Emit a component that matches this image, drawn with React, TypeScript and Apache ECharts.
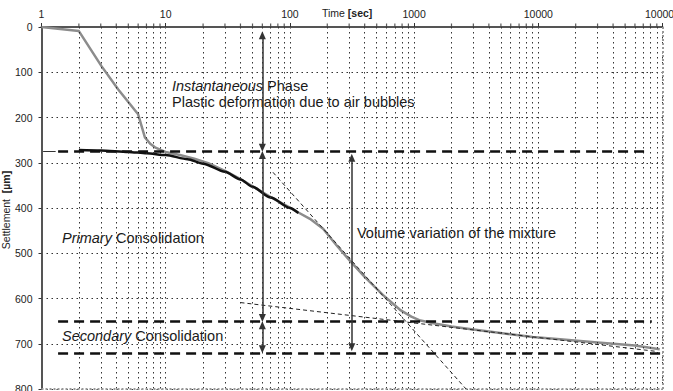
import { useEffect, useRef } from "react";
import * as echarts from "echarts";

// Time axis (seconds, log scale) decades and the in-decade gridline multipliers
const timeDecades = [1, 10, 100, 1000, 10000, 100000];
const decadeSteps = [2, 3, 4, 5, 6, 7, 8, 9];

// Full settlement record (grey curve)
const grayTime = [1, 2, 3.05, 4.15, 6, 6.8, 7.5, 8.2, 9.2, 10.2, 13, 17, 22, 30, 40, 50, 70, 100, 117, 145, 185, 240, 305, 400, 560, 770, 950, 1100, 1500, 2000, 2700, 4000, 6000, 9000, 15000, 30000, 60000, 95000];
const graySettlement = [0, 9, 87, 138, 193, 244, 258, 266, 272, 277, 283, 291, 301, 318, 336, 352, 376, 399, 410, 424, 446, 484, 517, 552, 592, 625, 640, 648, 656, 662, 667, 673, 679, 685, 690, 697, 704, 712];

// Primary consolidation fit (black curve)
const blackTime = [2, 3, 5, 7, 10, 15, 20, 30, 40, 50, 70, 100, 117];
const blackSettlement = [272, 273, 276, 279, 283, 292, 302, 320, 337, 353, 377, 400, 411];

// Phase boundaries (settlement, µm) and their extent in time
const phaseLevels = [275, 651, 720];
const phaseStart = [1.36, 1.36, 1.36];
const phaseEnd = [79000, 82000, 100000];

// Casagrande construction tangents: [time, settlement] pairs
const steepTangent = [[73, 321], [2620, 800]];
const flatTangent = [[40, 609], [90000, 717]];

// Dimension arrows: time position and settlement span of each arrow
const arrowTimes = [60, 60, 60, 315];
const arrowFrom = [10, 275, 651, 281];
const arrowTo = [275, 651, 720, 716];

const FONT = "'Liberation Sans', Arial, sans-serif";
const TIP_INSET = 8; // settlement units between arrow tip and line end

export default function App() {
  const ref = useRef<HTMLDivElement | null>(null);

  useEffect(() => {
    if (!ref.current) return;
    const chart = echarts.init(ref.current, undefined, { renderer: "svg" });

    const gridTimes: number[] = [];
    timeDecades.slice(0, -1).forEach((d) => decadeSteps.forEach((m) => gridTimes.push(d * m)));

    const dotted = { color: "#333", width: 1, type: [1.5, 3.5] as number[] };

    const arrowData = arrowTimes.map((t, i) => [
      { coord: [t, arrowFrom[i] + TIP_INSET] },
      { coord: [t, arrowTo[i] - TIP_INSET] },
    ]);

    const italicRich = (size: number) => ({
      i: { fontStyle: "italic", fontSize: size, fontFamily: FONT, fill: "#1a1a1a" },
    });
    const annotation = (text: string, x: number, y: number) => ({
      type: "text",
      x,
      y,
      silent: true,
      style: {
        text,
        fontSize: 14.5,
        fontFamily: FONT,
        fill: "#1a1a1a",
        verticalAlign: "middle",
        rich: italicRich(14.5),
      },
    });

    chart.setOption({
      animation: false,
      textStyle: { fontFamily: FONT },
      grid: { left: 41.5, right: 10.5, top: 27, bottom: 2, containLabel: false, outerBoundsMode: "none" },
      xAxis: {
        type: "log",
        logBase: 10,
        min: 1,
        max: 100000,
        position: "top",
        axisLine: { show: true, lineStyle: { color: "#555", width: 2 } },
        axisTick: { show: true, length: 4, lineStyle: { color: "#333" } },
        axisLabel: {
          show: true,
          fontSize: 10.5,
          color: "#222",
          margin: 8,
          showMinLabel: true,
          showMaxLabel: true,
          formatter: (v: number) => String(Math.round(v)),
        },
        splitLine: { show: true, lineStyle: dotted },
      },
      yAxis: {
        type: "value",
        inverse: true,
        min: 0,
        max: 800,
        interval: 100,
        axisLine: { show: true, lineStyle: { color: "#555", width: 2 } },
        axisTick: { show: true, length: 3, lineStyle: { color: "#333" } },
        axisLabel: { fontSize: 10.5, color: "#222", margin: 9 },
        splitLine: { show: true, lineStyle: { color: "#333", width: 1, type: [1.5, 3.5] } },
      },
      graphic: [
        {
          type: "text",
          x: 322,
          y: 13,
          silent: true,
          style: {
            text: "Time {b|[sec]}",
            fontSize: 10.5,
            fontFamily: FONT,
            fill: "#222",
            verticalAlign: "middle",
            rich: { b: { fontWeight: "bold", fontSize: 10.5, fontFamily: FONT, fill: "#222" } },
          },
        },
        {
          type: "text",
          x: 6,
          y: 210,
          rotation: Math.PI / 2,
          silent: true,
          style: {
            text: "Settlement  {b|[µm]}",
            fontSize: 10.5,
            fontFamily: FONT,
            fill: "#222",
            align: "center",
            verticalAlign: "middle",
            rich: { b: { fontWeight: "bold", fontSize: 10.5, fontFamily: FONT, fill: "#222" } },
          },
        },
        annotation("{i|Instantaneous} Phase", 172, 86),
        annotation("Plastic deformation due to air bubbles", 172, 102),
        annotation("{i|Primary} Consolidation", 62, 238),
        annotation("{i|Secondary} Consolidation", 62, 336),
        annotation("Volume variation of the mixture", 357, 233),
      ],
      series: [
        {
          // fine gridlines inside each decade, plus the frame on the right and bottom
          type: "line",
          data: [],
          silent: true,
          z: 1,
          markLine: {
            silent: true,
            symbol: "none",
            label: { show: false },
            lineStyle: dotted,
            data: [
              ...gridTimes.map((t) => ({ xAxis: t })),
              { xAxis: 100000, lineStyle: { color: "#999", width: 2, type: [2, 2] } },
              { yAxis: 800, lineStyle: { color: "#999", width: 2, type: [2, 2] } },
            ],
          },
        },
        {
          type: "line",
          name: "measured",
          data: grayTime.map((t, i) => [t, graySettlement[i]]),
          symbol: "none",
          smooth: false,
          lineStyle: { color: "#8c8c8c", width: 2.5, join: "round" },
          z: 3,
        },
        {
          type: "line",
          name: "primary",
          data: blackTime.map((t, i) => [t, blackSettlement[i]]),
          symbol: "none",
          smooth: 0.25,
          smoothMonotone: "x",
          lineStyle: { color: "#111", width: 2.5 },
          z: 4,
        },
        {
          // phase boundaries and tangents
          type: "line",
          data: [],
          silent: true,
          z: 5,
          markLine: {
            silent: true,
            symbol: "none",
            label: { show: false },
            data: [
              ...phaseLevels.map((s, i) => [
                { coord: [phaseStart[i], s], lineStyle: { color: "#111", width: 2.6, type: [10, 6] } },
                { coord: [phaseEnd[i], s] },
              ]),
              [
                { coord: [1.03, phaseLevels[0]], lineStyle: { color: "#333", width: 1, type: "solid" } },
                { coord: [1.3, phaseLevels[0]] },
              ],
              [
                { coord: steepTangent[0], lineStyle: { color: "#222", width: 1, type: [4, 3] } },
                { coord: steepTangent[1] },
              ],
              [
                { coord: flatTangent[0], lineStyle: { color: "#222", width: 1, type: [4, 3] } },
                { coord: flatTangent[1] },
              ],
            ],
          },
        },
        {
          // double-headed dimension arrows
          type: "line",
          data: [],
          silent: true,
          z: 6,
          markLine: {
            silent: true,
            symbol: ["triangle", "triangle"],
            symbolSize: [7, 8],
            label: { show: false },
            lineStyle: { color: "#333", width: 1.5, type: "solid" },
            itemStyle: { color: "#111" },
            data: arrowData,
          },
        },
        {
          // minor tick marks along the time axis
          type: "scatter",
          data: gridTimes.map((t) => [t, 0]),
          symbol: "rect",
          symbolSize: [1.2, 3],
          symbolOffset: [0, -2],
          itemStyle: { color: "#333" },
          silent: true,
          clip: false,
          z: 7,
        },
      ],
    });

    return () => chart.dispose();
  }, []);

  return (
    <div
      ref={ref}
      style={{ position: "fixed", left: 0, top: 0, width: 673, height: 391, background: "#fff" }}
    />
  );
}
